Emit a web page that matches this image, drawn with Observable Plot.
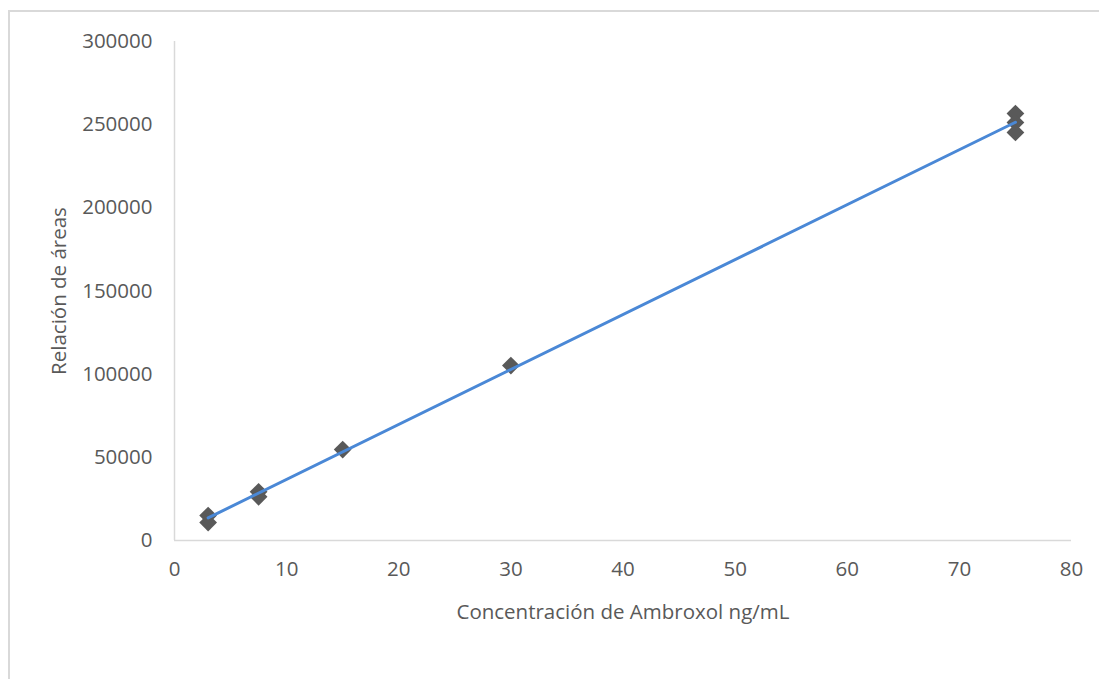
<!DOCTYPE html>
<html>
<head>
<meta charset="utf-8">
<script src="https://cdn.jsdelivr.net/npm/d3@7"></script>
<script src="https://cdn.jsdelivr.net/npm/@observablehq/plot@0.6"></script>
<style>
  html, body { margin: 0; padding: 0; background: #fff; overflow: hidden; }
  #wrap { position: relative; width: 1099px; height: 679px; }
  #border { position: absolute; left: 8px; top: 10px; width: 1200px; height: 800px; border: 2px solid #d9d9d9; box-sizing: border-box; }
  #chart { position: absolute; left: 0; top: 0; }
</style>
</head>
<body>
<div id="wrap"><div id="border"></div><div id="chart"></div></div>
<script>
const concentrations = [3, 3, 7.5, 7.5, 15, 30, 75, 75, 75];
const areaRatios = [15000, 10800, 29300, 26300, 54700, 105200, 256700, 251300, 245300];
const xTicks = [0, 10, 20, 30, 40, 50, 60, 70, 80];
const yTicks = [0, 50000, 100000, 150000, 200000, 250000, 300000];
const xLabel = "Concentración de Ambroxol ng/mL";
const yLabel = "Relación de áreas";

const data = concentrations.map((c, i) => ({x: c, y: areaRatios[i]}));

const chart = Plot.plot({
  width: 1099,
  height: 679,
  marginLeft: 174,
  marginRight: 28,
  marginTop: 41,
  marginBottom: 139,
  style: {fontFamily: "'Open Sans', sans-serif", fontSize: "20.5px", color: "#595959", background: "transparent"},
  x: {domain: [0, 80], ticks: xTicks, tickSize: 0, tickPadding: 21, label: xLabel, labelArrow: false, labelAnchor: "center", labelOffset: 78, tickFormat: d => String(d)},
  y: {domain: [0, 300000], ticks: yTicks, tickSize: 0, tickPadding: 22, label: yLabel, labelArrow: false, labelAnchor: "center", labelOffset: 123, tickFormat: d => String(d)},
  marks: [
    Plot.ruleY([0], {stroke: "#d9d9d9", strokeWidth: 1.5}),
    Plot.ruleX([0], {stroke: "#d9d9d9", strokeWidth: 1.5}),
    Plot.dot(data, {x: "x", y: "y", symbol: "diamond2", r: 8, fill: "#595959", stroke: "none"}),
    Plot.linearRegressionY(data, {x: "x", y: "y", stroke: "#4a88d6", strokeWidth: 3, ci: 0})
  ]
});
document.getElementById("chart").appendChild(chart);
</script>
</body>
</html>
